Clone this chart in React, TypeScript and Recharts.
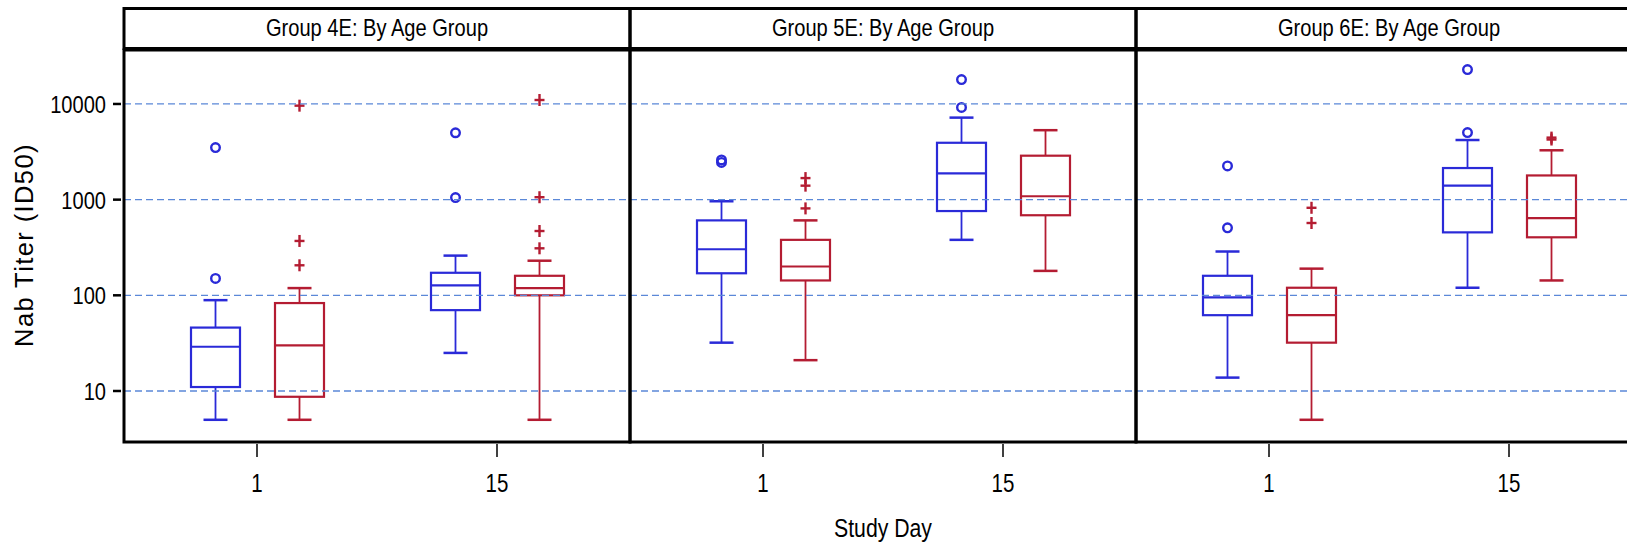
import React from 'react';
import { ComposedChart, Bar, XAxis, YAxis, ReferenceLine } from 'recharts';

type Stat = { min: number; q1: number; med: number; q3: number; max: number; out: number[] };

// ---------- data ----------
const dayLabels = ['1', '15'];
const panelTitles = ['Group 4E: By Age Group', 'Group 5E: By Age Group', 'Group 6E: By Age Group'];
const yTicks = [10, 100, 1000, 10000];
const yDomain: [number, number] = [2.93, 36650];
const xTitle = 'Study Day';
const yTitle = 'Nab Titer (ID50)';

// Group 4E
const g4Younger: Stat[] = [
  { min: 5, q1: 11, med: 29, q3: 46, max: 89, out: [150, 3500] },
  { min: 25, q1: 70, med: 127, q3: 172, max: 260, out: [1050, 5000] },
];
const g4Older: Stat[] = [
  { min: 5, q1: 8.7, med: 30, q3: 83, max: 119, out: [206, 370, 9600] },
  { min: 5, q1: 100, med: 119, q3: 160, max: 230, out: [310, 470, 1060, 11000] },
];
// Group 5E
const g5Younger: Stat[] = [
  { min: 32, q1: 170, med: 303, q3: 607, max: 962, out: [2450, 2600] },
  { min: 380, q1: 760, med: 1880, q3: 3930, max: 7200, out: [9200, 18000] },
];
const g5Older: Stat[] = [
  { min: 21, q1: 143, med: 200, q3: 380, max: 607, out: [810, 1400, 1680] },
  { min: 180, q1: 687, med: 1085, q3: 2880, max: 5320, out: [] },
];
// Group 6E
const g6Younger: Stat[] = [
  { min: 13.8, q1: 62, med: 95, q3: 160, max: 287, out: [507, 2250] },
  { min: 120, q1: 455, med: 1400, q3: 2140, max: 4200, out: [5020, 22900] },
];
const g6Older: Stat[] = [
  { min: 5, q1: 32, med: 62, q3: 120, max: 190, out: [570, 822] },
  { min: 143, q1: 404, med: 640, q3: 1790, max: 3280, out: [4250, 4450] },
];

const panelYounger = [g4Younger, g5Younger, g6Younger];
const panelOlder = [g4Older, g5Older, g6Older];

// ---------- style / layout ----------
const BLUE = '#2a2ad8';
const RED = '#b41c32';
const GRID = '#5b88d8';
const FONT = '"Liberation Sans", Arial, sans-serif';
const W = 1627;
const H = 545;
const PANEL_LEFT = [124, 630, 1136];
const PANEL_W = 506;
const TOP = 50;
const BOTTOM = 442;
const SQUEEZE = 0.82;

function BoxShape(props: any) {
  const { x, y, width, height, stat, color, marker } = props;
  if (!stat) return null;
  const top = Math.min(y, y + height);
  const bottom = Math.max(y, y + height);
  const lq1 = Math.log10(stat.q1);
  const lq3 = Math.log10(stat.q3);
  const ppl = (bottom - top) / (lq3 - lq1);
  const Y = (v: number) => bottom - (Math.log10(v) - lq1) * ppl;
  const cx = x + width / 2;
  const cap = 12;
  return (
    <g>
      <line x1={cx} x2={cx} y1={Y(stat.max)} y2={top} stroke={color} strokeWidth={1.8} />
      <line x1={cx} x2={cx} y1={bottom} y2={Y(stat.min)} stroke={color} strokeWidth={1.8} />
      <line x1={cx - cap} x2={cx + cap} y1={Y(stat.max)} y2={Y(stat.max)} stroke={color} strokeWidth={2.5} />
      <line x1={cx - cap} x2={cx + cap} y1={Y(stat.min)} y2={Y(stat.min)} stroke={color} strokeWidth={2.5} />
      <rect x={x} y={top} width={width} height={bottom - top} fill="none" stroke={color} strokeWidth={2.2} />
      <line x1={x} x2={x + width} y1={Y(stat.med)} y2={Y(stat.med)} stroke={color} strokeWidth={2.2} />
      {stat.out.map((v: number, i: number) =>
        marker === 'circle' ? (
          <circle key={i} cx={cx} cy={Y(v)} r={4.3} fill="none" stroke={color} strokeWidth={2.4} />
        ) : (
          <g key={i}>
            <line x1={cx - 5} x2={cx + 5} y1={Y(v)} y2={Y(v)} stroke={color} strokeWidth={2.4} />
            <line x1={cx} x2={cx} y1={Y(v) - 6} y2={Y(v) + 6} stroke={color} strokeWidth={2.4} />
          </g>
        )
      )}
    </g>
  );
}

function XTick(props: any) {
  const { x, y, payload } = props;
  return (
    <g>
      <line x1={x} x2={x} y1={y + 2} y2={y + 15} stroke="#000" strokeWidth={1.5} />
      <text
        transform={`translate(${x},${y + 50}) scale(${SQUEEZE},1)`}
        textAnchor="middle"
        fontSize={25}
        fontFamily={FONT}
        fill="#000"
      >
        {payload.value}
      </text>
    </g>
  );
}

function YTick(props: any) {
  const { x, y, payload } = props;
  return (
    <g>
      <line x1={x - 11} x2={x - 3} y1={y} y2={y} stroke="#000" strokeWidth={2.5} />
      <text
        transform={`translate(${x - 18},${y + 9}) scale(${SQUEEZE},1)`}
        textAnchor="end"
        fontSize={24.5}
        fontFamily={FONT}
        fill="#000"
      >
        {payload.value}
      </text>
    </g>
  );
}

function XTitleLabel(props: any) {
  const vb = props.viewBox || {};
  const cx = vb.x + vb.width / 2;
  return (
    <text
      transform={`translate(${cx},${vb.y + 95}) scale(0.85,1)`}
      textAnchor="middle"
      fontSize={25}
      fontFamily={FONT}
      fill="#000"
    >
      {xTitle}
    </text>
  );
}

function YTitleLabel(props: any) {
  const vb = props.viewBox || {};
  const cy = vb.y + vb.height / 2 - 1;
  return (
    <text
      transform={`translate(33,${cy}) rotate(-90)`}
      textAnchor="middle"
      fontSize={25.5}
      letterSpacing={1.4}
      fontFamily={FONT}
      fill="#000"
    >
      {yTitle}
    </text>
  );
}

function Panel({ index }: { index: number }) {
  const younger = panelYounger[index];
  const older = panelOlder[index];
  const rows = dayLabels.map((d, i) => ({ day: d, younger: younger[i], older: older[i] }));
  const first = index === 0;
  const chartLeft = first ? 0 : PANEL_LEFT[index];
  const width = first ? PANEL_LEFT[0] + PANEL_W : PANEL_W;
  return (
    <div style={{ position: 'absolute', left: chartLeft, top: 0 }}>
      <ComposedChart
        width={width}
        height={H}
        data={rows}
        margin={{ top: TOP, right: 0, bottom: 0, left: 0 }}
        barGap={35}
      >
        <XAxis
          dataKey="day"
          type="category"
          padding={{ left: 13, right: 13 }}
          height={H - BOTTOM}
          axisLine={false}
          tickLine={false}
          tickSize={0}
          tickMargin={0}
          interval={0}
          tick={(p: any) => <XTick {...p} />}
          label={index === 1 ? <XTitleLabel /> : undefined}
        />
        <YAxis
          scale="log"
          domain={yDomain}
          allowDataOverflow
          ticks={yTicks}
          width={first ? PANEL_LEFT[0] : 0}
          hide={!first}
          axisLine={false}
          tickLine={false}
          tickSize={0}
          tickMargin={0}
          interval={0}
          tick={(p: any) => <YTick {...p} />}
          label={first ? <YTitleLabel /> : undefined}
        />
        {yTicks.map((v) => (
          <ReferenceLine key={v} y={v} stroke={GRID} strokeWidth={1.3} strokeDasharray="7 4" />
        ))}
        <Bar
          dataKey={(r: any) => [r.younger.q1, r.younger.q3]}
          barSize={49}
          isAnimationActive={false}
          shape={(p: any) => <BoxShape {...p} stat={p.payload.younger} color={BLUE} marker="circle" />}
        />
        <Bar
          dataKey={(r: any) => [r.older.q1, r.older.q3]}
          barSize={49}
          isAnimationActive={false}
          shape={(p: any) => <BoxShape {...p} stat={p.payload.older} color={RED} marker="plus" />}
        />
      </ComposedChart>
    </div>
  );
}

export default function App() {
  return (
    <div
      style={{
        position: 'absolute',
        left: 0,
        top: 0,
        width: W,
        height: H,
        overflow: 'hidden',
        background: '#fff',
      }}
    >
      {[0, 1, 2].map((i) => (
        <Panel key={i} index={i} />
      ))}
      <svg
        width={W}
        height={H}
        style={{ position: 'absolute', left: 0, top: 0, pointerEvents: 'none' }}
      >
        {panelTitles.map((t, i) => (
          <g key={t}>
            <rect x={PANEL_LEFT[i]} y={8.5} width={PANEL_W} height={40} fill="none" stroke="#000" strokeWidth={3} />
            <rect
              x={PANEL_LEFT[i]}
              y={TOP}
              width={PANEL_W}
              height={BOTTOM - TOP}
              fill="none"
              stroke="#000"
              strokeWidth={3}
            />
            <text
              transform={`translate(${PANEL_LEFT[i] + PANEL_W / 2},36) scale(${SQUEEZE},1)`}
              textAnchor="middle"
              fontSize={24.5}
              fontFamily={FONT}
              fill="#000"
            >
              {t}
            </text>
          </g>
        ))}
      </svg>
    </div>
  );
}
